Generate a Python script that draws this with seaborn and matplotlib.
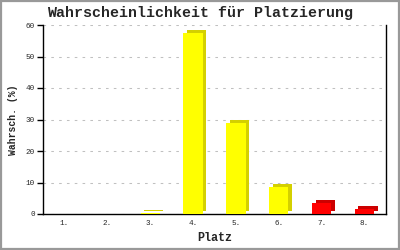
import matplotlib
matplotlib.use("Agg")
import matplotlib.pyplot as plt
import matplotlib.transforms as mtransforms
from matplotlib.patches import Rectangle
import seaborn as sns
import pandas as pd

places = ["1.", "2.", "3.", "4.", "5.", "6.", "7.", "8."]
probs = [0.0, 0.0, 0.3, 57.6, 28.9, 8.7, 3.4, 1.6]
front_colors = ["#ffff00"] * 6 + ["#ff0000"] * 2
side_colors = ["#d4d000"] * 6 + ["#cc0000"] * 2
yticks = [0, 10, 20, 30, 40, 50, 60]

sns.set_theme(style="white")
plt.rcParams["font.family"] = ["Liberation Mono", "DejaVu Sans Mono"]

fig = plt.figure(figsize=(4, 2.5), dpi=100)
fig.patch.set_facecolor("white")
ax = fig.add_axes([0.1075, 0.144, 0.8575, 0.756])

df = pd.DataFrame({"Platz": places, "Wert": probs})
sns.barplot(data=df, x="Platz", y="Wert", hue="Platz", palette=front_colors,
            width=0.45, legend=False, ax=ax, zorder=3, saturation=1)

# 3D depth: darker copy shifted up-right behind each bar
offset = mtransforms.ScaledTranslation(3.5 / 100, 3.0 / 100, fig.dpi_scale_trans)
for patch, sc in zip(ax.patches[:len(places)], side_colors):
    x0, w, h = patch.get_x(), patch.get_width(), patch.get_height()
    patch.set_edgecolor("none")
    patch.set_linewidth(0)
    if h > 0:
        shadow = Rectangle((x0, 0), w, h, facecolor=sc, edgecolor="none",
                           transform=ax.transData + offset, zorder=2.5)
        ax.add_patch(shadow)

ax.set_xlim(-0.5, 7.5)
ax.set_ylim(0, 60)
ax.set_yticks(yticks)
ax.set_yticklabels([str(v) for v in yticks])
ax.yaxis.grid(True, color="#c0c0c0", linestyle=(0, (2.5, 5)), linewidth=0.75, zorder=0)
ax.xaxis.grid(False)

for s in ["left", "right", "bottom"]:
    ax.spines[s].set_visible(True)
    ax.spines[s].set_color("black")
    ax.spines[s].set_linewidth(1.0)
ax.spines["top"].set_visible(False)

ax.tick_params(axis="y", which="both", left=True, length=4, width=1, color="black",
               labelsize=5.5, pad=2)
ax.tick_params(axis="x", which="both", bottom=False, length=0, labelsize=5.5, pad=4)

ax.set_xlabel("Platz", fontsize=8.5, fontweight="bold", labelpad=4)
ax.set_ylabel("Wahrsch. (%)", fontsize=7, fontweight="bold", labelpad=5)
fig.text(0.5, 0.948, "Wahrscheinlichkeit für Platzierung", ha="center", va="center",
         fontsize=10.8, fontweight="bold")

# gray border around figure
border = Rectangle((0.0025, 0.004), 0.995, 0.992, transform=fig.transFigure,
                   fill=False, edgecolor="#999999", linewidth=1.6)
fig.patches.append(border)

fig.savefig("out.png", dpi=100)
